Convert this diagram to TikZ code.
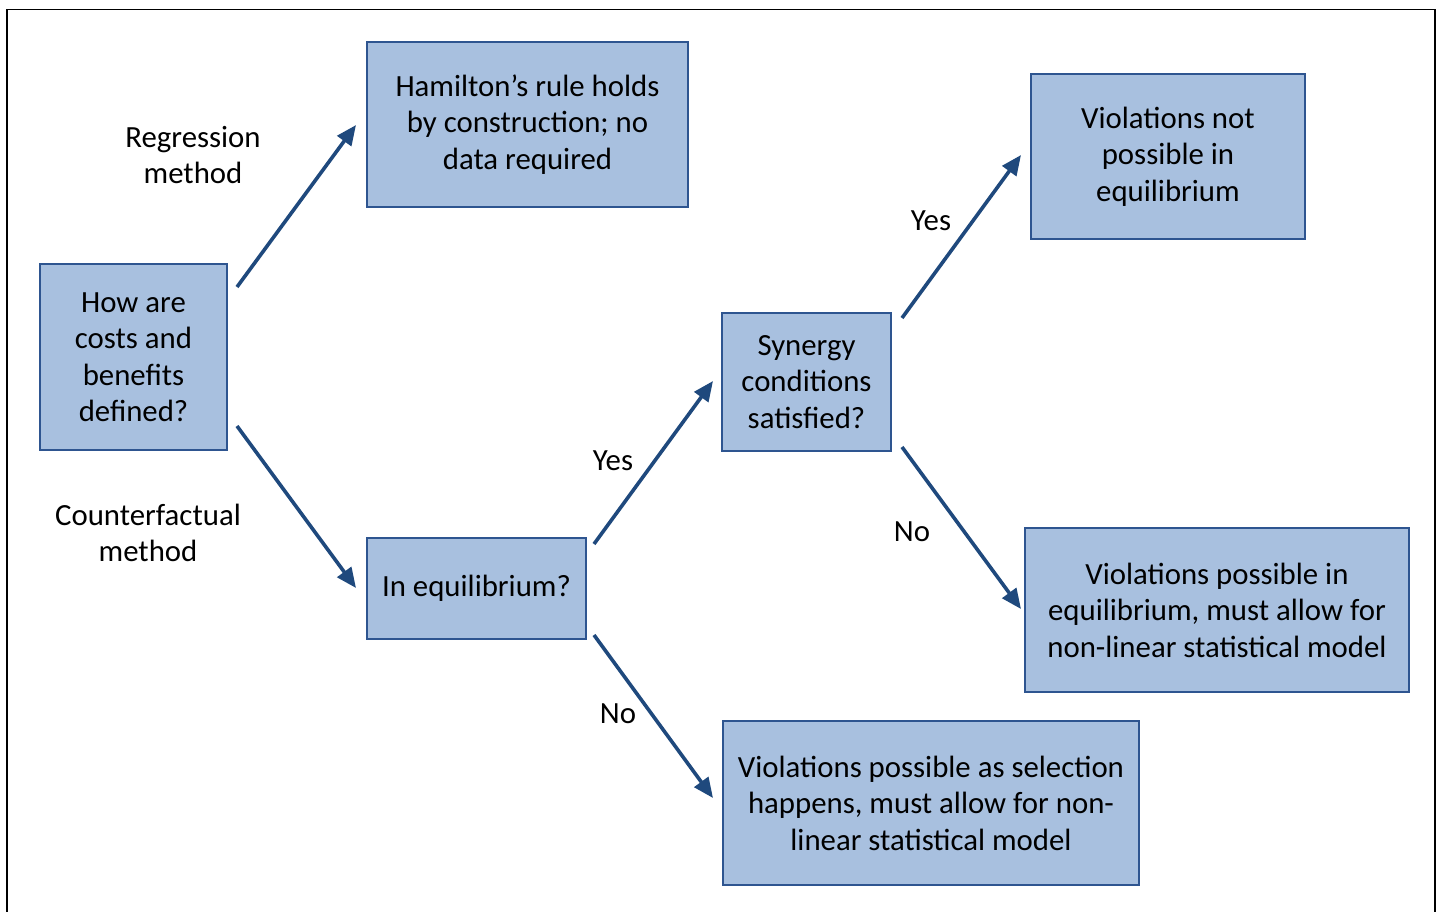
\documentclass[tikz,border=0pt]{standalone}
\usepackage{fontspec}
\setmainfont{Carlito}
\usetikzlibrary{arrows.meta}
\definecolor{boxfill}{RGB}{168,192,223}
\definecolor{boxline}{RGB}{46,85,144}
\definecolor{arrowc}{RGB}{31,73,125}
\tikzset{
  box/.style={draw=boxline, line width=2.6pt, fill=boxfill, align=center, inner sep=0pt,
    font=\fontsize{30.8}{36.5}\selectfont},
  lbl/.style={align=center, font=\fontsize{30.8}{36.5}\selectfont},
  arr/.style={draw=arrowc, line width=3.6pt, -{Triangle[length=20pt,width=17pt]}}
}
\begin{document}
\begin{tikzpicture}[x=1pt,y=-1pt]
\useasboundingbox (0,0) rectangle (1444,911);
\draw[line width=1.4pt] (7,915) -- (7,9.5) -- (1435,9.5) -- (1435,915);

\node[box, minimum width=187pt, minimum height=186pt] (q) at (133.5,357) {How are\\costs and\\benefits\\defined?};
\node[box, minimum width=321pt, minimum height=165pt] (ham) at (527.5,124.5) {Hamilton’s rule holds\\by construction; no\\data required};
\node[box, minimum width=219pt, minimum height=101pt] (eq) at (476.5,588.5) {In equilibrium?};
\node[box, minimum width=169pt, minimum height=138pt] (syn) at (806.5,382) {Synergy\\conditions\\satisfied?};
\node[box, minimum width=274pt, minimum height=165pt] (notp) at (1168,156.5) {Violations not\\possible in\\equilibrium};
\node[box, minimum width=384pt, minimum height=164pt] (poseq) at (1217,610) {Violations possible in\\equilibrium, must allow for\\non-linear statistical model};
\node[box, minimum width=416pt, minimum height=164pt] (sel) at (931,803) {Violations possible as selection\\happens, must allow for non-\\linear statistical model};

\coordinate (a1s) at (237,287);  \coordinate (a1e) at (356,125);
\coordinate (a2s) at (237,426);  \coordinate (a2e) at (356,588);
\coordinate (a3s) at (594,544);  \coordinate (a3e) at (713,381);
\coordinate (a4s) at (594,635);  \coordinate (a4e) at (713,798);
\coordinate (a5s) at (902,318);  \coordinate (a5e) at (1021,155);
\coordinate (a6s) at (902,447);  \coordinate (a6e) at (1021,609);

\draw[arr] (a1s) -- (a1e);
\draw[arr] (a2s) -- (a2e);
\draw[arr] (a3s) -- (a3e);
\draw[arr] (a4s) -- (a4e);
\draw[arr] (a5s) -- (a5e);
\draw[arr] (a6s) -- (a6e);

\node[lbl] (lreg) at (193,155) {Regression\\method};
\node[lbl] (lcf) at (148,533) {Counterfactual\\method};
\node[lbl] (ly1) at (613,461) {Yes};
\node[lbl] (ln1) at (618,714) {No};
\node[lbl] (ly2) at (931,221) {Yes};
\node[lbl] (ln2) at (912,532) {No};
\end{tikzpicture}
\end{document}
